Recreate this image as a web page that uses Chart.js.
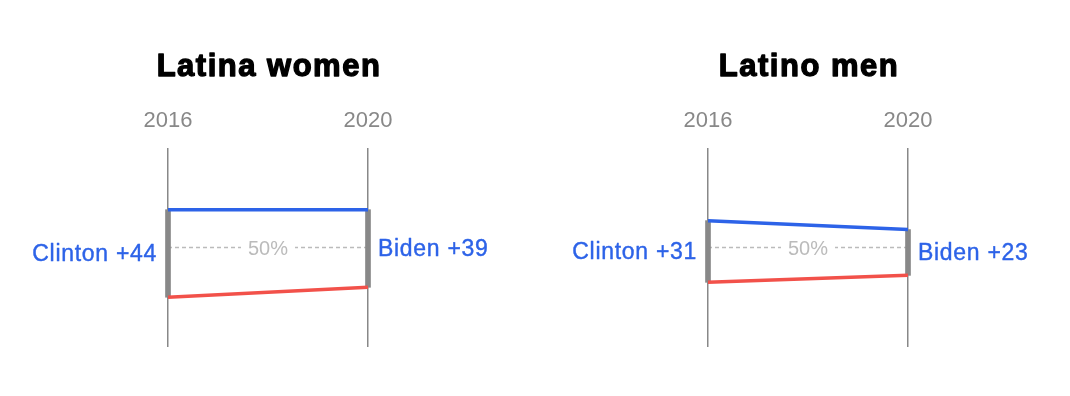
<!DOCTYPE html>
<html>
<head>
<meta charset="utf-8">
<script src="https://cdn.jsdelivr.net/npm/chart.js@4"></script>
<style>
  html, body { margin: 0; padding: 0; background: #fff; }
  #wrap { position: relative; width: 1070px; height: 396px; overflow: hidden; }
  #womenChart { position: absolute; left: 0; top: 0; }
  #menChart { position: absolute; left: 540px; top: 0; }
</style>
</head>
<body>
<div id="wrap">
  <canvas id="womenChart" width="535" height="396"></canvas>
  <canvas id="menChart" width="530" height="396"></canvas>
</div>
<script>
const years = ["2016", "2020"];
const fiftyLine = [50, 50];

const womenTitle = "Latina women";
const womenDem = [69, 69];
const womenRep = [25, 30];
const womenLabels = ["Clinton +44", "Biden +39"];

const menTitle = "Latino men";
const menDem = [63.5, 59];
const menRep = [32.5, 36];
const menLabels = ["Clinton +31", "Biden +23"];

const BLUE = "#2d63e8";
const RED = "#f2514a";
const GRAY = "#888888";
const LIGHT = "#bbbbbb";
const FONT = "'Liberation Sans', Arial, Helvetica, sans-serif";

const slopeText = {
    id: "slopeText",
    afterDatasetsDraw(chart, args, opts) {
        const ctx = chart.ctx;
        const x = chart.scales.x;
        const y = chart.scales.y;
        const x0 = x.getPixelForValue(0);
        const x1 = x.getPixelForValue(1);
        const mid = (x0 + x1) / 2;
        ctx.save();

        // title, stroked a bit to look heavier
        ctx.fillStyle = "#000";
        ctx.strokeStyle = "#000";
        ctx.lineWidth = 1.3;
        ctx.lineJoin = "round";
        ctx.font = "bold 31px " + FONT;
        ctx.letterSpacing = "1.5px";
        ctx.textAlign = "center";
        ctx.textBaseline = "alphabetic";
        ctx.fillText(opts.title, mid + 1, 76);
        ctx.strokeText(opts.title, mid + 1, 76);

        // years
        ctx.letterSpacing = "0px";
        ctx.fillStyle = GRAY;
        ctx.font = "22px " + FONT;
        years.forEach((yr, i) => {
            ctx.fillText(yr, x.getPixelForValue(i), 127);
        });

        // 50% label with white gap
        ctx.font = "20px " + FONT;
        const y50 = y.getPixelForValue(50);
        const w = ctx.measureText("50%").width;
        ctx.fillStyle = "#fff";
        ctx.fillRect(mid - w / 2 - 7, y50 - 8, w + 14, 16);
        ctx.fillStyle = LIGHT;
        ctx.fillText("50%", mid, y50 + 7);

        // margin labels
        ctx.fillStyle = BLUE;
        ctx.strokeStyle = BLUE;
        ctx.lineWidth = 0.4;
        ctx.font = "23px " + FONT;
        ctx.letterSpacing = "0.7px";
        const m0 = (y.getPixelForValue(opts.dem[0]) + y.getPixelForValue(opts.rep[0])) / 2;
        const m1 = (y.getPixelForValue(opts.dem[1]) + y.getPixelForValue(opts.rep[1])) / 2;
        ctx.textAlign = "right";
        ctx.fillText(opts.labels[0], x0 - 11, m0 + 8);
        ctx.strokeText(opts.labels[0], x0 - 11, m0 + 8);
        ctx.textAlign = "left";
        ctx.fillText(opts.labels[1], x1 + 10, m1 + 8);
        ctx.strokeText(opts.labels[1], x1 + 10, m1 + 8);
        ctx.restore();
    }
};

function makeChart(id, title, dem, rep, labels, rightPad) {
    new Chart(document.getElementById(id), {
        type: "line",
        data: {
            labels: years,
            datasets: [
                {
                    type: "line",
                    data: dem,
                    borderColor: BLUE,
                    borderWidth: 3.5,
                    pointRadius: 0,
                    clip: false,
                    order: 1,
                },
                {
                    type: "line",
                    data: rep,
                    borderColor: RED,
                    borderWidth: 3.5,
                    pointRadius: 0,
                    clip: false,
                    order: 1,
                },
                {
                    type: "bar",
                    data: years.map((_, i) => [rep[i], dem[i]]),
                    backgroundColor: GRAY,
                    barThickness: 5,
                    clip: false,
                    order: 2,
                },
                {
                    type: "line",
                    data: fiftyLine,
                    borderColor: LIGHT,
                    borderWidth: 1.5,
                    borderDash: [4, 3],
                    pointRadius: 0,
                    order: 3,
                },
            ],
        },
        options: {
            responsive: false,
            animation: false,
            layout: {
                padding: { left: 168, right: rightPad, top: 148, bottom: 49 },
            },
            plugins: {
                legend: { display: false },
                tooltip: { enabled: false },
                slopeText: { title: title, dem: dem, rep: rep, labels: labels },
            },
            scales: {
                x: {
                    type: "category",
                    offset: false,
                    ticks: { display: false },
                    border: { display: false },
                    grid: {
                        offset: false,
                        drawTicks: false,
                        color: GRAY,
                        lineWidth: 1.5,
                    },
                },
                y: {
                    display: false,
                    min: 0,
                    max: 100,
                },
            },
        },
        plugins: [slopeText],
    });
}

makeChart("womenChart", womenTitle, womenDem, womenRep, womenLabels, 167);
makeChart("menChart", menTitle, menDem, menRep, menLabels, 162);
</script>
</body>
</html>
